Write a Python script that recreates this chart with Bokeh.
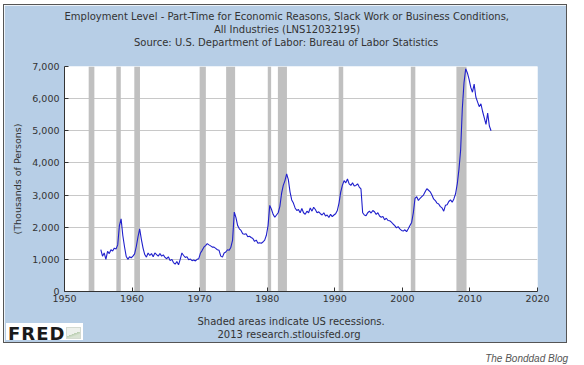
import numpy as np
from bokeh.plotting import figure
from bokeh.models import NumeralTickFormatter, FixedTicker, Div, Range1d, Title
from bokeh.layouts import column
from bokeh.embed import file_html
from bokeh.resources import INLINE

TITLE_LINES = [
    "Employment Level - Part-Time for Economic Reasons, Slack Work or Business Conditions,",
    "All Industries (LNS12032195)",
    "Source: U.S. Department of Labor: Bureau of Labor Statistics",
]
NOTE_LINES = ["Shaded areas indicate US recessions.", "2013 research.stlouisfed.org"]
Y_LABEL = "(Thousands of Persons)"
CREDIT = "The Bonddad Blog"
LOGO = "FRED"

x_ticks = [1950, 1960, 1970, 1980, 1990, 2000, 2010, 2020]
y_ticks = [0, 1000, 2000, 3000, 4000, 5000, 6000, 7000]

# NBER recessions (decimal years)
rec_start = [1953.58, 1957.67, 1960.33, 1970.0, 1973.92, 1980.08, 1981.58, 1990.58, 2001.25, 2008.0]
rec_end = [1954.42, 1958.33, 1961.17, 1970.92, 1975.25, 1980.58, 1982.92, 1991.25, 2001.92, 2009.5]

# quarterly values (thousands), starting 1955 Q2
first_quarter = 1955.375
values = [
    1300, 1100, 1200,                 # 1955
    1000, 1250, 1180, 1300,           # 1956
    1260, 1350, 1320, 1450,           # 1957
    2050, 2260, 1750, 1400,           # 1958
    1100, 1000, 1080, 1050,           # 1959
    1100, 1170, 1400, 1700,           # 1960
    1950, 1620, 1350, 1150,           # 1961
    1070, 1200, 1120, 1180,           # 1962
    1080, 1200, 1150, 1100,           # 1963
    1180, 1100, 1140, 1060,           # 1964
    1020, 1080, 960, 1000,            # 1965
    900, 850, 930, 830,               # 1966
    1000, 1200, 1120, 1060,           # 1967
    1080, 990, 1010, 960,             # 1968
    980, 950, 1000, 1020,             # 1969
    1200, 1280, 1380, 1430,           # 1970
    1490, 1450, 1420, 1380,           # 1971
    1380, 1340, 1300, 1280,           # 1972
    1100, 1070, 1200, 1230,           # 1973
    1300, 1280, 1380, 1600,           # 1974
    2470, 2300, 2050, 1950,           # 1975
    1900, 1800, 1780, 1800,           # 1976
    1700, 1720, 1680, 1650,           # 1977
    1560, 1600, 1500, 1520,           # 1978
    1500, 1540, 1600, 1750,           # 1979
    2050, 2680, 2560, 2400,           # 1980
    2310, 2380, 2450, 2650,           # 1981
    3050, 3300, 3450, 3660,           # 1982
    3480, 3100, 2850, 2750,           # 1983
    2600, 2520, 2550, 2450,           # 1984
    2580, 2450, 2400, 2500,           # 1985
    2450, 2600, 2500, 2620,           # 1986
    2550, 2450, 2480, 2420,           # 1987
    2380, 2450, 2350, 2380,           # 1988
    2300, 2400, 2330, 2380,           # 1989
    2420, 2520, 2750, 3090,           # 1990
    3300, 3450, 3380, 3500,           # 1991
    3350, 3300, 3380, 3280,           # 1992
    3300, 3350, 3250, 3190,           # 1993
    2450, 2380, 2360, 2450,           # 1994
    2500, 2440, 2520, 2480,           # 1995
    2400, 2450, 2350, 2310,           # 1996
    2330, 2230, 2280, 2210,           # 1997
    2200, 2160, 2100, 2050,           # 1998
    1980, 2020, 1950, 1900,           # 1999
    1880, 1920, 1860, 1950,           # 2000
    2050, 2150, 2450, 2900,           # 2001
    2950, 2830, 2900, 2950,           # 2002
    3000, 3100, 3200, 3150,           # 2003
    3100, 3000, 2880, 2830,           # 2004
    2750, 2720, 2640, 2600,           # 2005
    2500, 2680, 2700, 2800,           # 2006
    2850, 2780, 2880, 3040,           # 2007
    3350, 3800, 4400, 5700,           # 2008
    6500, 6930, 6800, 6600,           # 2009
    6350, 6200, 6450, 6050,           # 2010
    5900, 5750, 5840, 5600,           # 2011
    5400, 5200, 5550, 5150,           # 2012
    5000,                             # 2013
]
dates = first_quarter + 0.25 * np.arange(len(values))

W, H = 564, 339
BOX_BLUE = "#b7cee6"
TXT = "#333333"

X0, X1 = x_ticks[0], x_ticks[-1]
Y0, Y1 = y_ticks[0], y_ticks[-1]

p = figure(width=W, height=H, x_range=Range1d(X0, X1), y_range=Range1d(Y0, Y1),
           output_backend="svg", toolbar_location=None,
           min_border_left=60, min_border_right=31, min_border_top=61, min_border_bottom=53)
p.border_fill_color = BOX_BLUE
p.background_fill_color = "white"
p.outline_line_color = None
p.styles = {"border": "1px solid #555555", "margin-left": "3px", "margin-top": "4px"}

p.quad(left=rec_start, right=rec_end, bottom=Y0, top=Y1,
       fill_color="#c0c0c0", line_color=None)
p.line(dates, values, line_color="#1f1fcc", line_width=1.1)

p.xgrid.visible = False
p.ygrid.grid_line_color = "#c8c8c8"
p.ygrid.grid_line_width = 1

p.xaxis.ticker = FixedTicker(ticks=x_ticks)
p.yaxis.ticker = FixedTicker(ticks=y_ticks)
p.yaxis.formatter = NumeralTickFormatter(format="0,0")
for ax in (p.xaxis[0], p.yaxis[0]):
    ax.major_tick_in = 4
    ax.major_tick_out = 0
    ax.minor_tick_line_color = None
    ax.axis_line_color = TXT
    ax.major_tick_line_color = TXT
    ax.major_label_text_font = "DejaVu Sans"
    ax.major_label_text_font_size = "9.5px"
    ax.major_label_text_color = TXT
p.yaxis.major_label_standoff = 5
p.xaxis.major_label_standoff = 3
p.yaxis.axis_label = Y_LABEL
p.yaxis.axis_label_text_font = "DejaVu Sans"
p.yaxis.axis_label_text_font_style = "normal"
p.yaxis.axis_label_text_font_size = "9.5px"
p.yaxis.axis_label_text_color = TXT
p.yaxis.axis_label_standoff = 6


def row(txt, offset, standoff, size="10px"):
    return Title(text=txt, align="left", offset=offset, standoff=standoff,
                 text_font="DejaVu Sans", text_font_size=size, text_line_height=1.0,
                 text_font_style="normal", text_color=TXT)

# "above" rows: first added sits closest to the frame (spacer first)
p.add_layout(row(" ", 0, 6), "above")
for txt, off in zip(reversed(TITLE_LINES), [69.5, 149.5, 0]):
    p.add_layout(row(txt, off, 0), "above")

# "below" rows, after the x axis panel (spacer first)
p.add_layout(row(" ", 0, 1, size="5px"), "below")
for txt, off in zip(NOTE_LINES, [133, 153]):
    p.add_layout(row(txt, off, 0), "below")

logo_html = (
    '<div style="display:flex;align-items:center;height:17px;">'
    '<span style="font-family:\'DejaVu Sans\';font-weight:bold;font-size:18px;line-height:17px;'
    'letter-spacing:1px;color:#1a1a1a;margin-left:2px;position:relative;top:2px;">' + LOGO + '</span>'
    '<span style="display:inline-block;width:15px;height:12px;margin-left:1px;'
    'position:relative;top:1px;'
    'background:linear-gradient(160deg,#eef1ec 55%,#b9cdb0 56%,#d9e3d3 75%);'
    'border:1px solid #d4dad1;"></span></div>'
)
logo = Div(text=logo_html, width=77, height=17,
           styles={"margin-top": "-20px", "margin-left": "6px", "background": "white",
                   "position": "relative", "z-index": "10"})

credit = Div(text=CREDIT, width=565, height=18,
             styles={"text-align": "right", "font-style": "italic", "margin-left": "3px",
                     "font-family": "Liberation Sans, Arial, sans-serif", "font-size": "10px",
                     "color": "#555555", "line-height": "18px"})

layout = column(p, logo, credit)
open("out.html", "w").write(file_html(layout, INLINE))
